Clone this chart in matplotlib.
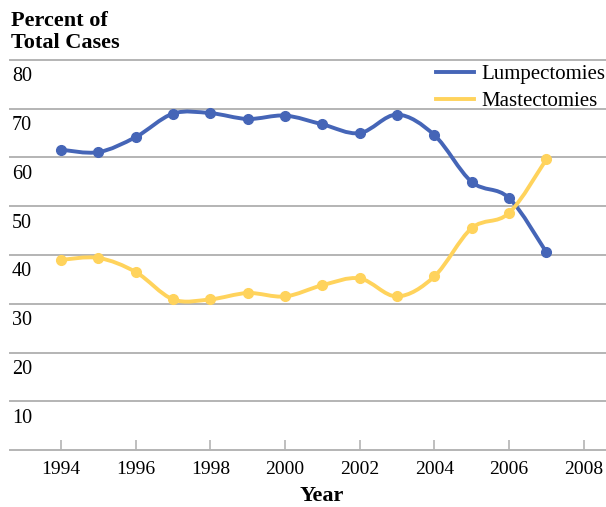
import numpy as np
import matplotlib.pyplot as plt
from matplotlib.path import Path
from matplotlib.patches import PathPatch
from matplotlib.lines import Line2D
import matplotlib.transforms as mtransforms

plt.rcParams['font.family'] = ['Liberation Serif', 'DejaVu Serif']

years = [1994, 1995, 1996, 1997, 1998, 1999, 2000, 2001, 2002, 2003, 2004, 2005, 2006, 2007]
lumpectomies = [61.6, 61.1, 64.2, 69.0, 69.1, 67.9, 68.6, 66.8, 65.0, 68.8, 64.6, 55.0, 51.7, 40.6]
mastectomies = [39.0, 39.4, 36.5, 30.9, 30.9, 32.2, 31.5, 33.8, 35.2, 31.5, 35.6, 45.5, 48.6, 59.6]
series_names = ['Lumpectomies', 'Mastectomies']
colors = ['#4565b7', '#ffd35c']
y_ticks = [10, 20, 30, 40, 50, 60, 70, 80]
x_ticks = [1994, 1996, 1998, 2000, 2002, 2004, 2006, 2008]


def smooth_path(x, y):
    # Catmull-Rom style bezier through the points (like Excel's smoothed line)
    x = np.asarray(x, float)
    y = np.asarray(y, float)
    pts = np.column_stack([x, y])
    verts = [pts[0]]
    codes = [Path.MOVETO]
    n = len(pts)
    for i in range(n - 1):
        p0 = pts[max(i - 1, 0)]
        p1 = pts[i]
        p2 = pts[i + 1]
        p3 = pts[min(i + 2, n - 1)]
        c1 = p1 + (p2 - p0) / 6.0
        c2 = p2 - (p3 - p1) / 6.0
        verts += [c1, c2, p2]
        codes += [Path.CURVE4] * 3
    return Path(verts, codes)


fig = plt.figure(figsize=(6.06, 5.07), dpi=100)
ax = fig.add_axes([10 / 606, 1 - 450 / 507, 596 / 606, 390 / 507])

ax.set_xlim(1992.63, 2008.6)
ax.set_ylim(0, 80)

for v in y_ticks:
    ax.axhline(v, color='#b4b4b4', lw=1.4, zorder=1, clip_on=False)

for yv, c, name in zip([lumpectomies, mastectomies], colors, series_names):
    ax.add_patch(PathPatch(smooth_path(years, yv), facecolor='none', edgecolor=c,
                           lw=2.8, zorder=3, capstyle='round', joinstyle='round'))
    ax.plot(years, yv, 'o', color=c, ms=7, zorder=4)

for s in ['left', 'right', 'top']:
    ax.spines[s].set_visible(False)
ax.spines['bottom'].set_color('#b4b4b4')
ax.spines['bottom'].set_linewidth(1.4)

ax.set_yticks([])
ax.set_xticks(x_ticks)
ax.set_xticklabels([str(t) for t in x_ticks], fontsize=14)
ax.tick_params(axis='x', direction='in', length=7, width=1.2, color='#b4b4b4', pad=8)

trans = mtransforms.blended_transform_factory(ax.transAxes, ax.transData)
for v in y_ticks:
    ax.text(0.003, v - 1.5, str(v), transform=trans, fontsize=14.5, va='top', ha='left')

ax.set_xlabel('Year', fontsize=16, fontweight='bold')
ax.xaxis.set_label_coords((322 - 10) / 596, -0.093)

fig.text(11 / 606, 1 - 11 / 507, 'Percent of\nTotal Cases', fontsize=16, fontweight='bold',
         va='top', ha='left', linespacing=1.12)

handles = [Line2D([], [], color=c, lw=2.8) for c in colors]
ax.legend(handles, series_names, loc='upper right', bbox_to_anchor=(1.02, 1.02), frameon=False,
          fontsize=15, handlelength=1.85, handletextpad=0.35, labelspacing=0.35, borderaxespad=0.2)

fig.savefig('out.png', dpi=100)
